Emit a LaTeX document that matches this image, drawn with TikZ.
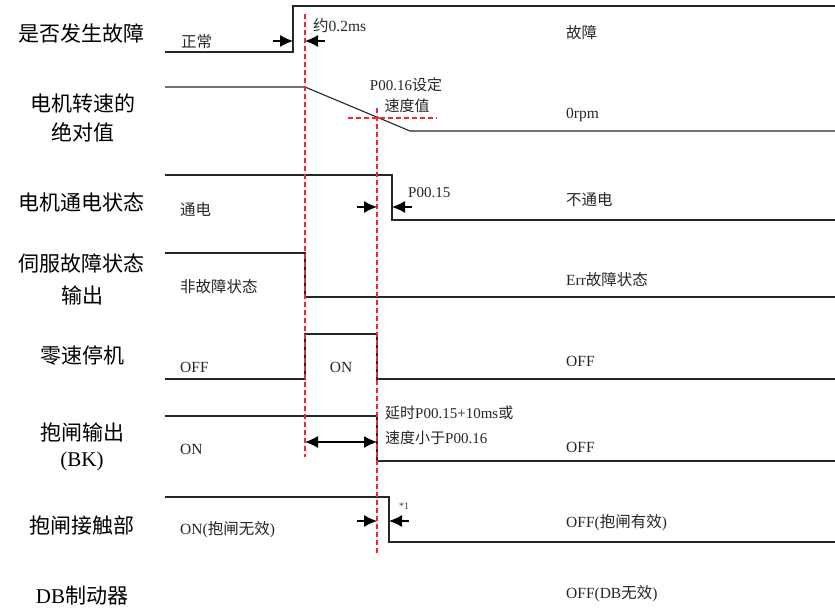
\documentclass[tikz,border=0pt]{standalone}
\usepackage{fontspec}
\setmainfont{Liberation Serif}
\newfontfamily\cjk{Noto Sans CJK SC}
\newcommand\zh[1]{{\cjk #1}}
\usetikzlibrary{arrows.meta}
\definecolor{guidered}{RGB}{240,40,50}
\begin{document}
\begin{tikzpicture}[x=1pt,y=-1pt,
  wave/.style={draw=black!85,line width=1.1pt},
  guide/.style={draw=guidered,line width=1.2pt,dash pattern=on 5pt off 3pt},
  rowlabel/.style={font=\fontsize{21}{24}\selectfont,text=black,inner sep=0pt,anchor=center},
  lvl/.style={font=\fontsize{15.5}{18}\selectfont,text=black!85,inner sep=0pt,anchor=west},
  note/.style={font=\fontsize{15}{17}\selectfont,text=black!85,inner sep=0pt},
  tip/.style={-{Latex[length=13pt,width=12pt]},line width=1.1pt,draw=black},
  dtip/.style={{Latex[length=13pt,width=12pt]}-{Latex[length=13pt,width=12pt]},line width=1.1pt,draw=black}]
\useasboundingbox (0,0) rectangle (835,609);

% row labels
\node[rowlabel] (l1) at (82,34) {\zh{是否发生故障}};
\node[rowlabel] (l2a) at (83,103) {\zh{电机转速的}};
\node[rowlabel] (l2b) at (83,132) {\zh{绝对值}};
\node[rowlabel] (l3) at (82,202) {\zh{电机通电状态}};
\node[rowlabel] (l4a) at (82,263) {\zh{伺服故障状态}};
\node[rowlabel] (l4b) at (82,295) {\zh{输出}};
\node[rowlabel] (l5) at (82,356) {\zh{零速停机}};
\node[rowlabel] (l6a) at (82,432) {\zh{抱闸输出}};
\node[rowlabel] (l6b) at (82,461) {(BK)};
\node[rowlabel] (l7) at (82,525) {\zh{抱闸接触部}};
\node[rowlabel] (l8) at (82,596) {DB\zh{制动器}};

% red guide lines
\coordinate (g1t) at (305,14); \coordinate (g1b) at (305,457);
\coordinate (g2t) at (377,108); \coordinate (g2b) at (377,553);
\coordinate (g3l) at (348,118); \coordinate (g3r) at (437,118);

% row 1
\coordinate (a0) at (165,52); \coordinate (a1) at (293,52);
\coordinate (a2) at (293,6); \coordinate (a3) at (835,6);
\draw[wave] (a0) -- (a1) -- (a2) -- (a3);
\node[lvl] (t1a) at (181,42) {\zh{正常}};
\node[lvl] (t1b) at (313,26) {\zh{约}0.2ms};
\node[lvl] (t1c) at (566,33) {\zh{故障}};
\coordinate (ar1s) at (273,41); \coordinate (ar1e) at (293,41);
\coordinate (ar2s) at (325,41); \coordinate (ar2e) at (305,41);
\draw[tip] (ar1s) -- (ar1e);
\draw[tip] (ar2s) -- (ar2e);

% row 2
\coordinate (b0) at (165,87); \coordinate (b1) at (305,87);
\coordinate (b2) at (410,131); \coordinate (b3) at (835,131);
\draw[wave] (b0) -- (b1) -- (b2) -- (b3);
\node[note] (t2a) at (406,85) {P00.16\zh{设定}};
\node[note] (t2b) at (407,106) {\zh{速度值}};
\node[lvl] (t2c) at (566,115) {0rpm};

% row 3
\coordinate (c0) at (165,175); \coordinate (c1) at (392,175);
\coordinate (c2) at (392,220); \coordinate (c3) at (835,220);
\draw[wave] (c0) -- (c1) -- (c2) -- (c3);
\node[lvl] (t3a) at (180,210) {\zh{通电}};
\node[lvl] (t3b) at (566,200) {\zh{不通电}};
\node[note,anchor=west] (t3c) at (408,193) {P00.15};
\coordinate (ar3s) at (357,207); \coordinate (ar3e) at (377,207);
\coordinate (ar4s) at (412,207); \coordinate (ar4e) at (392,207);
\draw[tip] (ar3s) -- (ar3e);
\draw[tip] (ar4s) -- (ar4e);

% row 4
\coordinate (d0) at (165,253); \coordinate (d1) at (305,253);
\coordinate (d2) at (305,297); \coordinate (d3) at (835,297);
\draw[wave] (d0) -- (d1) -- (d2) -- (d3);
\node[lvl] (t4a) at (180,287) {\zh{非故障状态}};
\node[lvl] (t4b) at (566,280) {Err\zh{故障状态}};

% row 5
\coordinate (e0) at (165,379); \coordinate (e1) at (305,379);
\coordinate (e2) at (305,334); \coordinate (e3) at (377,334);
\coordinate (e4) at (377,379); \coordinate (e5) at (835,379);
\draw[wave] (e0) -- (e1) -- (e2) -- (e3) -- (e4) -- (e5);
\node[lvl] (t5a) at (180,367) {OFF};
\node[lvl,anchor=center] (t5b) at (341,367) {ON};
\node[lvl] (t5c) at (566,361) {OFF};

% row 6
\coordinate (f0) at (165,416); \coordinate (f1) at (377,416);
\coordinate (f2) at (377,461); \coordinate (f3) at (835,461);
\draw[wave] (f0) -- (f1) -- (f2) -- (f3);
\node[lvl] (t6a) at (180,449) {ON};
\node[lvl] (t6b) at (566,447) {OFF};
\node[note,anchor=west] (t6c) at (385,413) {\zh{延时}P00.15+10ms\zh{或}};
\node[note,anchor=west] (t6d) at (385,438) {\zh{速度小于}P00.16};
\coordinate (ar5s) at (305,442); \coordinate (ar5e) at (377,442);
\draw[dtip] (ar5s) -- (ar5e);

% row 7
\coordinate (h0) at (165,497); \coordinate (h1) at (389,497);
\coordinate (h2) at (389,542); \coordinate (h3) at (835,542);
\draw[wave] (h0) -- (h1) -- (h2) -- (h3);
\node[lvl] (t7a) at (180,530) {ON(\zh{抱闸无效})};
\node[lvl] (t7b) at (566,523) {OFF(\zh{抱闸有效})};
\node[font=\fontsize{10}{12}\selectfont,text=black!75,inner sep=0pt] (t7c) at (404,506) {*1};
\coordinate (ar6s) at (357,521); \coordinate (ar6e) at (377,521);
\coordinate (ar7s) at (409,521); \coordinate (ar7e) at (389,521);
\draw[tip] (ar6s) -- (ar6e);
\draw[tip] (ar7s) -- (ar7e);

% row 8
\node[lvl] (t8a) at (566,594) {OFF(DB\zh{无效})};

% guides on top
\draw[guide] (g1t) -- (g1b);
\draw[guide] (g2t) -- (g2b);
\draw[guide] (g3l) -- (g3r);
\end{tikzpicture}
\end{document}
